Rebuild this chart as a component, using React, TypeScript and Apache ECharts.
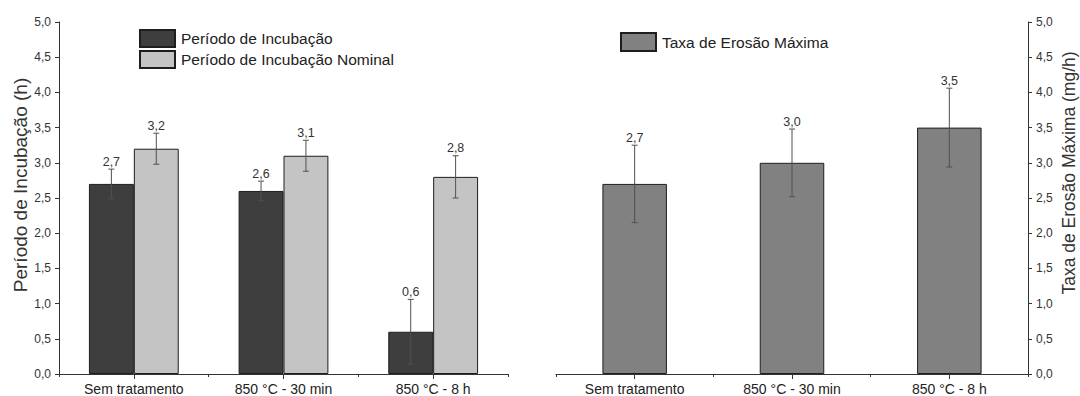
import React, { useEffect, useRef } from "react";
import * as echarts from "echarts";

const categories = ["Sem tratamento", "850 °C - 30 min", "850 °C - 8 h"];
const incubacao = [2.7, 2.6, 0.6];
const incubacaoErr = [0.21, 0.14, 0.46];
const nominal = [3.2, 3.1, 2.8];
const nominalErr = [0.22, 0.22, 0.3];
const erosao = [2.7, 3.0, 3.5];
const erosaoErr = [0.55, 0.48, 0.56];

const leftTitle = "Período de Incubação (h)";
const rightTitle = "Taxa de Erosão Máxima (mg/h)";

const FONT = "'Liberation Sans', Arial, sans-serif";
const TEXT = "#333";

const fmt = (v: number) => v.toFixed(1).replace(".", ",");

// Error bar with its value label; offsetFrac shifts the mark inside the category band
const errorRenderer = (offsetFrac: number) => (params: any, api: any) => {
  const idx = api.value(0);
  const v = api.value(1);
  const e = api.value(2);
  const band = api.size([1, 0])[0];
  const x = api.coord([idx, v])[0] + offsetFrac * band;
  const yTop = api.coord([idx, v + e])[1];
  const yBot = api.coord([idx, Math.max(v - e, 0)])[1];
  const cap = 3;
  const stroke = { stroke: "#505050", lineWidth: 1 };
  return {
    type: "group",
    children: [
      { type: "line", shape: { x1: x, y1: yTop, x2: x, y2: yBot }, style: stroke },
      { type: "line", shape: { x1: x - cap, y1: yTop, x2: x + cap, y2: yTop }, style: stroke },
      { type: "line", shape: { x1: x - cap, y1: yBot, x2: x + cap, y2: yBot }, style: stroke },
      {
        type: "text",
        x,
        y: yTop - 1,
        style: {
          text: fmt(v),
          align: "center",
          verticalAlign: "bottom",
          fontSize: 12.5,
          fontFamily: FONT,
          fill: TEXT,
        },
      },
    ],
  };
};

const errData = (vals: number[], errs: number[]) => vals.map((v, i) => [i, v, errs[i]]);

const valueAxis = (gridIndex: number, position: "left" | "right") => ({
  type: "value",
  gridIndex,
  position,
  min: 0,
  max: 5,
  interval: 0.5,
  axisLine: { show: true, lineStyle: { color: "#333", width: 1 } },
  axisTick: { show: true, length: 4, lineStyle: { color: "#333" } },
  axisLabel: { fontSize: 12, fontFamily: FONT, color: TEXT, margin: 8, formatter: fmt },
  splitLine: { show: false },
});

const catAxis = (gridIndex: number) => ({
  type: "category",
  gridIndex,
  data: categories,
  position: "bottom",
  axisLine: { show: true, lineStyle: { color: "#333", width: 1 } },
  axisTick: { show: true, alignWithLabel: true, length: 5, lineStyle: { color: "#333" } },
  axisLabel: { fontSize: 14, fontFamily: FONT, color: "#222", margin: 8 },
});

// Small ticks on the category boundaries
const boundaryAxis = (gridIndex: number) => ({
  type: "category",
  gridIndex,
  data: categories,
  position: "bottom",
  axisLine: { show: false },
  axisTick: { show: true, length: 3, lineStyle: { color: "#333" } },
  axisLabel: { show: false },
});

const barStyle = (color: string) => ({ color, borderColor: "#1e1e1e", borderWidth: 1 });

const legendText = { fontSize: 15.5, fontFamily: FONT, color: "#222", padding: [0, 0, 0, 1] };

// Rotated axis title, reading bottom to top
const axisTitle = (text: string, x: number, y: number, fontSize: number) => ({
  type: "text",
  x,
  y,
  rotation: Math.PI / 2,
  silent: true,
  style: { text, align: "center", verticalAlign: "middle", fontSize, fontFamily: FONT, fill: TEXT },
});

export default function App() {
  const ref = useRef<HTMLDivElement>(null);

  useEffect(() => {
    if (!ref.current) return;
    const chart = echarts.init(ref.current, null, { renderer: "svg" });
    chart.setOption({
      animation: false,
      backgroundColor: "#fff",
      textStyle: { fontFamily: FONT },
      grid: [
        { left: 59, right: 572, top: 22, bottom: 22 },
        { left: 556, right: 52, top: 22, bottom: 21 },
      ],
      graphic: [axisTitle(leftTitle, 20, 185, 19), axisTitle(rightTitle, 1069, 173, 17.5)],
      legend: [
        {
          orient: "vertical",
          left: 139,
          top: 29,
          itemWidth: 35,
          itemHeight: 17,
          itemGap: 2,
          icon: "rect",
          data: ["Período de Incubação", "Período de Incubação Nominal"],
          textStyle: legendText,
          padding: 0,
        },
        {
          left: 620,
          top: 32,
          itemWidth: 35,
          itemHeight: 18,
          icon: "rect",
          data: ["Taxa de Erosão Máxima"],
          textStyle: legendText,
          padding: 0,
        },
      ],
      xAxis: [catAxis(0), boundaryAxis(0), catAxis(1), boundaryAxis(1)],
      yAxis: [valueAxis(0, "left"), valueAxis(1, "right")],
      series: [
        {
          name: "Período de Incubação",
          type: "bar",
          xAxisIndex: 0,
          yAxisIndex: 0,
          data: incubacao,
          barGap: "0%",
          barCategoryGap: "40%",
          itemStyle: barStyle("#3e3e3e"),
        },
        {
          name: "Período de Incubação Nominal",
          type: "bar",
          xAxisIndex: 0,
          yAxisIndex: 0,
          data: nominal,
          barGap: "0%",
          barCategoryGap: "40%",
          itemStyle: barStyle("#c4c4c4"),
        },
        {
          name: "Taxa de Erosão Máxima",
          type: "bar",
          xAxisIndex: 2,
          yAxisIndex: 1,
          data: erosao,
          barCategoryGap: "59%",
          itemStyle: barStyle("#818181"),
        },
        {
          type: "custom",
          xAxisIndex: 0,
          yAxisIndex: 0,
          silent: true,
          z: 5,
          renderItem: errorRenderer(-0.15),
          encode: { x: 0, y: 1 },
          data: errData(incubacao, incubacaoErr),
        },
        {
          type: "custom",
          xAxisIndex: 0,
          yAxisIndex: 0,
          silent: true,
          z: 5,
          renderItem: errorRenderer(0.15),
          encode: { x: 0, y: 1 },
          data: errData(nominal, nominalErr),
        },
        {
          type: "custom",
          xAxisIndex: 2,
          yAxisIndex: 1,
          silent: true,
          z: 5,
          renderItem: errorRenderer(0),
          encode: { x: 0, y: 1 },
          data: errData(erosao, erosaoErr),
        },
      ],
    });
    return () => chart.dispose();
  }, []);

  return (
    <div
      ref={ref}
      style={{ position: "fixed", left: 0, top: 0, width: 1080, height: 396, background: "#fff" }}
    />
  );
}
